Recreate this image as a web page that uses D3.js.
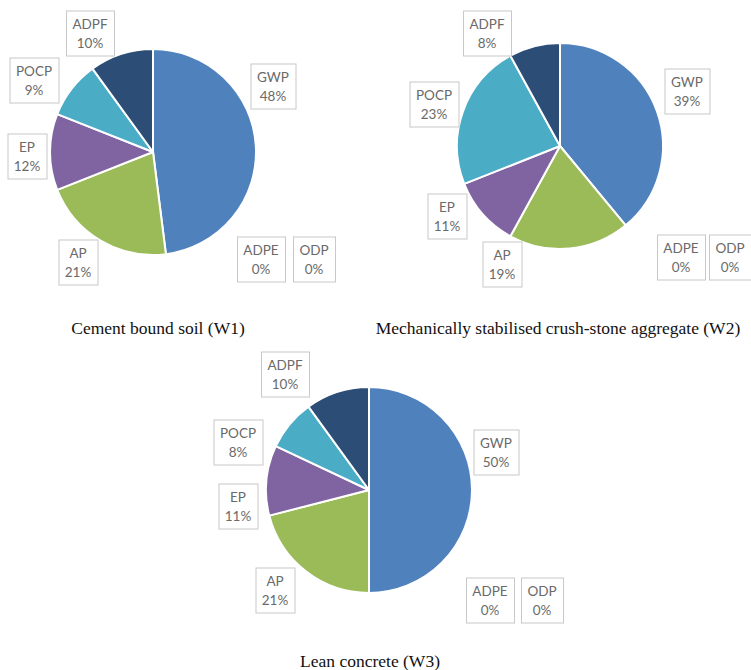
<!DOCTYPE html>
<html>
<head>
<meta charset="utf-8">
<script src="https://cdn.jsdelivr.net/npm/d3@7"></script>
<style>
  html, body { margin: 0; padding: 0; background: #fff; }
  svg { display: block; }
</style>
</head>
<body>
<svg id="chart" width="751" height="670"></svg>
<script>
// ---- data ----
const categories = ["GWP", "ADPE", "ODP", "AP", "EP", "POCP", "ADPF"];
const w1Values = [48, 0, 0, 21, 12, 9, 10];
const w2Values = [39, 0, 0, 19, 11, 23, 8];
const w3Values = [50, 0, 0, 21, 11, 8, 10];
const chartTitles = [
  "Cement bound soil (W1)",
  "Mechanically stabilised crush-stone aggregate (W2)",
  "Lean concrete (W3)"
];

// ---- styles ----
const sliceColors = {
  GWP: "#4F81BD", ADPE: "#C0504D", ODP: "#F79646",
  AP: "#9BBB59", EP: "#8064A2", POCP: "#4BACC6", ADPF: "#2C4D75"
};
const color = d3.scaleOrdinal().domain(categories).range(categories.map(c => sliceColors[c]));

// ---- layout (pie centres, label offsets relative to pie centre, titles) ----
const layouts = [
  { cx: 153, cy: 152, title: [158, 334],
    labels: { GWP: [120, -66], ADPE: [108, 107], ODP: [161, 107], AP: [-75, 110], EP: [-126, 4], POCP: [-119, -72], ADPF: [-63, -119] } },
  { cx: 560, cy: 146, title: [558, 334],
    labels: { GWP: [127, -55], ADPE: [121, 111], ODP: [170, 111], AP: [-58, 118], EP: [-113, 70], POCP: [-126, -42], ADPF: [-73, -113] } },
  { cx: 369, cy: 490, title: [370, 667],
    labels: { GWP: [127, -38], ADPE: [121, 110], ODP: [173, 110], AP: [-94, 100], EP: [-131, 16], POCP: [-131, -48], ADPF: [-84, -116] } }
];
const radius = 103;
const series = [w1Values, w2Values, w3Values];

const svg = d3.select("#chart");
const pie = d3.pie().sort(null).value(d => d.value);
const arc = d3.arc().innerRadius(0).outerRadius(radius);

series.forEach((vals, i) => {
  const L = layouts[i];
  const data = categories.map((c, k) => ({ name: c, value: vals[k] }));
  const g = svg.append("g").attr("transform", `translate(${L.cx},${L.cy})`);

  g.selectAll("path.slice")
    .data(pie(data).filter(d => d.data.value > 0))
    .join("path")
    .attr("class", "slice")
    .attr("d", arc)
    .attr("fill", d => color(d.data.name))
    .attr("stroke", "#fff")
    .attr("stroke-width", 2)
    .attr("stroke-linejoin", "round");

  const lab = g.selectAll("g.lab")
    .data(data)
    .join("g")
    .attr("class", "lab")
    .attr("transform", d => `translate(${L.labels[d.name][0]},${L.labels[d.name][1]})`);

  lab.append("rect").attr("class", "box");
  lab.append("text")
    .attr("text-anchor", "middle")
    .attr("y", -4)
    .attr("font-family", "Lato, 'Open Sans', sans-serif")
    .attr("font-size", 13.5)
    .attr("fill", "#6a6a6a")
    .text(d => d.name);
  lab.append("text")
    .attr("text-anchor", "middle")
    .attr("y", 15)
    .attr("font-family", "Lato, 'Open Sans', sans-serif")
    .attr("font-size", 13.5)
    .attr("fill", "#6a6a6a")
    .text(d => d.value + "%");

  lab.each(function() {
    const sel = d3.select(this);
    let w = 0;
    sel.selectAll("text").each(function() { w = Math.max(w, this.getComputedTextLength()); });
    const bw = Math.round(w + 13), bh = 45;
    sel.select("rect")
      .attr("x", -bw / 2 + 0.5).attr("y", -bh / 2 + 0.5)
      .attr("width", bw).attr("height", bh)
      .attr("fill", "#fff")
      .attr("stroke", "#C8C8C8")
      .attr("stroke-width", 1);
  });

  svg.append("text")
    .attr("x", L.title[0])
    .attr("y", L.title[1])
    .attr("text-anchor", "middle")
    .attr("font-family", "'Liberation Serif', 'Times New Roman', serif")
    .attr("font-size", 17.5)
    .attr("fill", "#111")
    .text(chartTitles[i]);
});
</script>
</body>
</html>
